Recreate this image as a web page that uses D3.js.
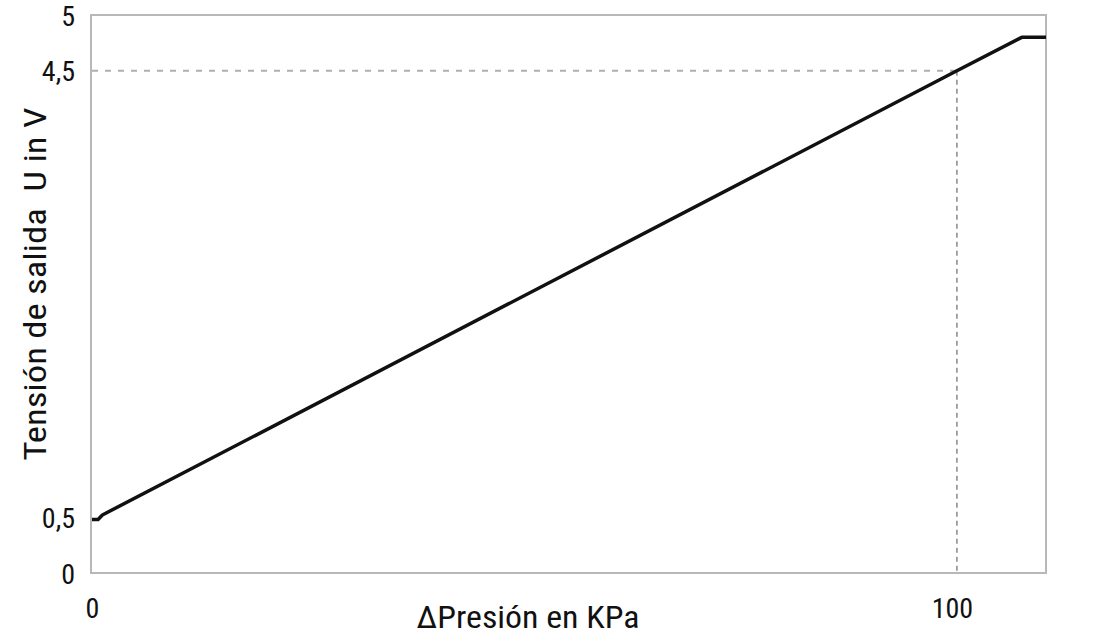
<!DOCTYPE html>
<html><head><meta charset="utf-8">
<script src="https://cdn.jsdelivr.net/npm/d3@7"></script>
<style>
body{margin:0;background:#fff;}
text{font-family:"Liberation Sans Narrow","Arial Narrow","Roboto Condensed",sans-serif;fill:#111;white-space:pre;}
</style></head><body>
<svg id="c" width="1108" height="638"></svg>
<script>
const pressure = [0, 0.7, 1.2, 100, 107.5, 110.3];
const voltage  = [0.48, 0.48, 0.52, 4.5, 4.8, 4.8];
const xTicks = [0, 100];
const xTickLabels = ["0", "100"];
const yTicks = [0, 0.5, 4.5, 5];
const yTickLabels = ["0", "0,5", "4,5", "5"];
const refX = 100, refY = 4.5;
const xTitle = "ΔPresión en KPa";
const yTitle = "Tensión de salida  U in V";

const svg = d3.select("#c");
const m = {l:92, r:1046, t:15, b:573};
const x = d3.scaleLinear().domain([0,110.3]).range([m.l, m.r]);
const y = d3.scaleLinear().domain([0,5]).range([m.b, m.t]);

// frame
svg.append("rect").attr("x",m.l-1).attr("y",m.t).attr("width",m.r-m.l+1).attr("height",m.b-m.t)
  .attr("fill","none").attr("stroke","#b8b8b8").attr("stroke-width",2);

// reference dashed lines
svg.append("line").attr("x1",x(0)).attr("x2",x(refX)).attr("y1",y(refY)).attr("y2",y(refY))
  .attr("stroke","#b0b0b0").attr("stroke-width",2).attr("stroke-dasharray","6,7");
svg.append("line").attr("x1",x(refX)).attr("x2",x(refX)).attr("y1",y(refY)).attr("y2",y(0))
  .attr("stroke","#888").attr("stroke-width",1.5).attr("stroke-dasharray","5,4");

// curve
const pts = pressure.map((p,i)=>[p, voltage[i]]);
svg.append("path").datum(pts)
  .attr("d", d3.line().x(d=>x(d[0])).y(d=>y(d[1])))
  .attr("fill","none").attr("stroke","#111").attr("stroke-width",3.5).attr("stroke-linejoin","round");

// y tick labels
const yAxis = d3.axisLeft(y).tickValues(yTicks).tickFormat((d,i)=>yTickLabels[i]).tickSize(0).tickPadding(17);
const gy = svg.append("g").attr("transform",`translate(${m.l},0)`).call(yAxis);
gy.select(".domain").remove();
gy.selectAll("text").style("font-size","28px").style("font-family",null).attr("fill","#111").attr("dy","0.36em");

const xAxis = d3.axisBottom(x).tickValues(xTicks).tickFormat((d,i)=>xTickLabels[i]).tickSize(0).tickPadding(25);
const gx = svg.append("g").attr("transform",`translate(0,${m.b})`).call(xAxis);
gx.select(".domain").remove();
gx.selectAll("text").style("font-size","28px").style("font-family",null).attr("fill","#111");
gx.selectAll("text").filter((d)=>d===100).attr("dx","-5");

svg.append("text").attr("x",528).attr("y",628).attr("text-anchor","middle")
  .attr("textLength",223).attr("lengthAdjust","spacingAndGlyphs")
  .style("font-size","32px").text(xTitle);
svg.append("text").attr("transform","translate(46,284) rotate(-90)").attr("text-anchor","middle")
  .attr("textLength",353).attr("lengthAdjust","spacingAndGlyphs")
  .style("font-size","32px").text(yTitle);
</script></body></html>
